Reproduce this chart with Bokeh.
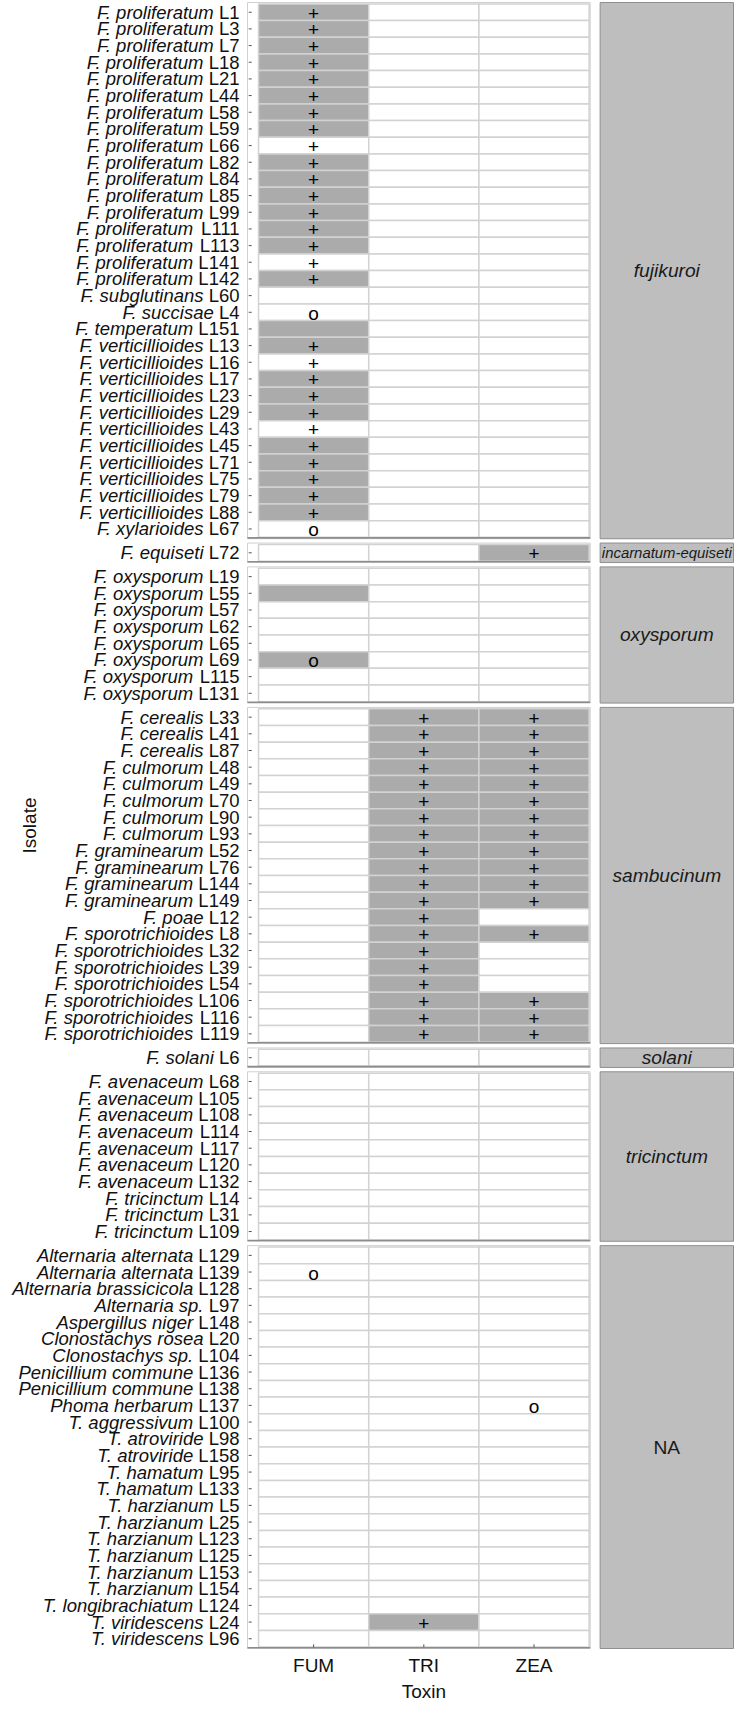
import math
from bokeh.plotting import figure
from bokeh.models import ColumnDataSource, Range1d
from bokeh.core.properties import value
from bokeh.embed import file_html
from bokeh.resources import INLINE

# ---------------- data ----------------
toxins = ["FUM", "TRI", "ZEA"]
groups = ["fujikuroi", "incarnatum-equiseti", "oxysporum", "sambucinum",
          "solani", "tricinctum", "NA"]
group_sizes = [32, 1, 8, 20, 1, 10, 24]
x_title = "Toxin"
y_title = "Isolate"

isolates = [
    # fujikuroi
    "F. proliferatum L1", "F. proliferatum L3", "F. proliferatum L7", "F. proliferatum L18",
    "F. proliferatum L21", "F. proliferatum L44", "F. proliferatum L58", "F. proliferatum L59",
    "F. proliferatum L66", "F. proliferatum L82", "F. proliferatum L84", "F. proliferatum L85",
    "F. proliferatum L99", "F. proliferatum L111", "F. proliferatum L113", "F. proliferatum L141",
    "F. proliferatum L142", "F. subglutinans L60", "F. succisae L4", "F. temperatum L151",
    "F. verticillioides L13", "F. verticillioides L16", "F. verticillioides L17",
    "F. verticillioides L23", "F. verticillioides L29", "F. verticillioides L43",
    "F. verticillioides L45", "F. verticillioides L71", "F. verticillioides L75",
    "F. verticillioides L79", "F. verticillioides L88", "F. xylarioides L67",
    # incarnatum-equiseti
    "F. equiseti L72",
    # oxysporum
    "F. oxysporum L19", "F. oxysporum L55", "F. oxysporum L57", "F. oxysporum L62",
    "F. oxysporum L65", "F. oxysporum L69", "F. oxysporum L115", "F. oxysporum L131",
    # sambucinum
    "F. cerealis L33", "F. cerealis L41", "F. cerealis L87", "F. culmorum L48",
    "F. culmorum L49", "F. culmorum L70", "F. culmorum L90", "F. culmorum L93",
    "F. graminearum L52", "F. graminearum L76", "F. graminearum L144", "F. graminearum L149",
    "F. poae L12", "F. sporotrichioides L8", "F. sporotrichioides L32",
    "F. sporotrichioides L39", "F. sporotrichioides L54", "F. sporotrichioides L106",
    "F. sporotrichioides L116", "F. sporotrichioides L119",
    # solani
    "F. solani L6",
    # tricinctum
    "F. avenaceum L68", "F. avenaceum L105", "F. avenaceum L108", "F. avenaceum L114",
    "F. avenaceum L117", "F. avenaceum L120", "F. avenaceum L132", "F. tricinctum L14",
    "F. tricinctum L31", "F. tricinctum L109",
    # NA
    "Alternaria alternata L129", "Alternaria alternata L139", "Alternaria brassicicola L128",
    "Alternaria sp. L97", "Aspergillus niger L148", "Clonostachys rosea L20",
    "Clonostachys sp. L104", "Penicillium commune L136", "Penicillium commune L138",
    "Phoma herbarum L137", "T. aggressivum L100", "T. atroviride L98", "T. atroviride L158",
    "T. hamatum L95", "T. hamatum L133", "T. harzianum L5", "T. harzianum L25",
    "T. harzianum L123", "T. harzianum L125", "T. harzianum L153", "T. harzianum L154",
    "T. longibrachiatum L124", "T. viridescens L24", "T. viridescens L96",
]

# gene detected (grey tile) : 1 / 0
fum_gene = ([1, 1, 1, 1, 1, 1, 1, 1, 0, 1, 1, 1, 1, 1, 1, 0, 1, 0, 0, 1,
             1, 0, 1, 1, 1, 0, 1, 1, 1, 1, 1, 0]
            + [0]
            + [0, 1, 0, 0, 0, 1, 0, 0]
            + [0] * 20
            + [0]
            + [0] * 10
            + [0] * 24)
tri_gene = ([0] * 32
            + [0]
            + [0] * 8
            + [1] * 20
            + [0]
            + [0] * 10
            + [0] * 22 + [1, 0])
zea_gene = ([0] * 32
            + [1]
            + [0] * 8
            + [1, 1, 1, 1, 1, 1, 1, 1, 1, 1, 1, 1, 0, 1, 0, 0, 0, 1, 1, 1]
            + [0]
            + [0] * 10
            + [0] * 24)

# toxin production symbol
fum_prod = (["+"] * 17 + ["", "o", ""] + ["+"] * 11 + ["o"]
            + [""]
            + ["", "", "", "", "", "o", "", ""]
            + [""] * 20
            + [""]
            + [""] * 10
            + ["", "o"] + [""] * 22)
tri_prod = ([""] * 32
            + [""]
            + [""] * 8
            + ["+"] * 20
            + [""]
            + [""] * 10
            + [""] * 22 + ["+", ""])
zea_prod = ([""] * 32
            + ["+"]
            + [""] * 8
            + ["+", "+", "+", "+", "+", "+", "+", "+", "+", "+", "+", "+", "", "+", "", "", "",
               "+", "+", "+"]
            + [""]
            + [""] * 10
            + [""] * 9 + ["o"] + [""] * 14)

# ---------------- layout ----------------
FONT = value("Liberation Sans")
W, H = 734, 1701
PANEL_X0 = 247          # canvas px of panel left edge
PANEL_Y0 = 2            # canvas px of first panel top
PANEL_Y1 = 1648         # canvas px of last panel bottom
ux = 110.2              # px per toxin column
panel_left, panel_right = -0.6, 2.51
strip_left = 2.6
x_start = panel_left - PANEL_X0 / ux
x_end = x_start + W / ux

PAD, GAP = 0.085, 0.26
row_y, p_top, p_bot = [], [], []
yy = 0.0
for n in group_sizes:
    p_top.append(yy)
    yy += PAD
    for k in range(n):
        row_y.append(yy + 0.5)
        yy += 1
    yy += PAD
    p_bot.append(yy)
    yy += GAP
total = yy - GAP
uy = (PANEL_Y1 - PANEL_Y0) / total


def xpx(px):            # canvas px -> x data
    return x_start + px / ux


def ypx(px):            # px below last panel bottom -> y data
    return total + px / uy


p = figure(width=W, height=H, output_backend="svg", toolbar_location=None,
           x_range=Range1d(x_start, x_end),
           y_range=Range1d(total + (H - PANEL_Y1) / uy, -PANEL_Y0 / uy),
           min_border=0, x_axis_location=None, y_axis_location=None)
p.grid.visible = False
p.outline_line_color = None
p.background_fill_color = "white"
p.border_fill_color = "white"

# panels
p.quad(left=panel_left, right=panel_right, top=p_top, bottom=p_bot,
       fill_color="white", line_color="#d0d0d0", line_width=1)

# tiles
genes = [fum_gene, tri_gene, zea_gene]
prods = [fum_prod, tri_prod, zea_prod]
tx, ty, tfill, sx, sy, st = [], [], [], [], [], []
for j in range(len(toxins)):
    for i in range(len(isolates)):
        tx.append(j)
        ty.append(row_y[i])
        tfill.append("#ababab" if genes[j][i] else "#ffffff")
        if prods[j][i]:
            sx.append(j)
            sy.append(row_y[i])
            st.append(prods[j][i])
p.rect(x="x", y="y", width=1, height=1, fill_color="fill", line_color="#d2d2d2",
       line_width=1.5, source=ColumnDataSource(dict(x=tx, y=ty, fill=tfill)))
p.text(x="x", y="y", text="t", source=ColumnDataSource(dict(x=sx, y=sy, t=st)),
       text_align="center", text_baseline="middle", text_font=FONT,
       text_font_size="19px", text_color="#000000", y_offset=1)

# panel bottom lines
p.segment(x0=panel_left, x1=panel_right, y0=[b - 0.8 / uy for b in p_bot],
          y1=[b - 0.8 / uy for b in p_bot], line_color="#8c8c8c", line_width=1.6)

# y ticks (inside panel, left)
p.segment(x0=panel_left + 1.2 / ux, x1=panel_left + 4.2 / ux, y0=row_y, y1=row_y,
          line_color="#555555", line_width=1)
# x ticks (inside panel, bottom)
p.segment(x0=list(range(len(toxins))), x1=list(range(len(toxins))),
          y0=total - 1.2 / uy, y1=total - 4.2 / uy, line_color="#555555", line_width=1)

# strips
strip_right = x_end - 1.0 / ux
p.quad(left=strip_left, right=strip_right, top=p_top, bottom=p_bot,
       fill_color="#bebebe", line_color="#8f8f8f", line_width=1)
aw = dict(a=556, b=556, c=500, e=556, f=278, i=222, j=222, k=500, l=222, m=833,
          n=556, o=556, p=556, q=556, r=333, s=500, t=278, u=556, y=500, N=722, A=667)
aw["-"] = 333
strip_w_px = (strip_right - strip_left) * ux
s_size, s_style = [], []
for g in groups:
    units = sum(aw.get(ch, 556) for ch in g) / 1000.0
    fs = min(19.2, (strip_w_px - 3) / units)
    s_size.append("%.1fpx" % fs)
    s_style.append("normal" if g == "NA" else "italic")
s_x = [(strip_left + strip_right) / 2] * len(groups)
s_y = [(a + b) / 2 for a, b in zip(p_top, p_bot)]
p.text(x="x", y="y", text="g",
       source=ColumnDataSource(dict(x=s_x, y=s_y, g=groups, fs=s_size, st=s_style)),
       text_align="center", text_baseline="middle", text_font=FONT,
       text_font_size="fs", text_font_style="st", text_color="#1a1a1a")

# y labels: italic taxon + roman strain code
LFS = 18.5
x_right = xpx(239)
sp_txt, sp_x, stn_txt = [], [], []
for lab in isolates:
    sp, stn = lab.rsplit(" ", 1)
    w_strain = 0.556 * len(stn) * LFS
    sp_txt.append(sp)
    stn_txt.append(stn)
    sp_x.append(x_right - (w_strain + 0.278 * LFS) / ux)
lsrc = ColumnDataSource(dict(y=row_y, sp=sp_txt, spx=sp_x, stn=stn_txt,
                             stx=[x_right] * len(isolates)))
p.text(x="spx", y="y", text="sp", source=lsrc, text_align="right",
       text_baseline="middle", text_font=FONT, text_font_size="%.1fpx" % LFS,
       text_font_style="italic", text_color="#111111")
p.text(x="stx", y="y", text="stn", source=lsrc, text_align="right",
       text_baseline="middle", text_font=FONT, text_font_size="%.1fpx" % LFS,
       text_color="#111111")

# x tick labels and axis titles
p.text(x=list(range(len(toxins))), y=[ypx(17)] * len(toxins), text=toxins,
       text_align="center", text_baseline="middle", text_font=FONT,
       text_font_size="19px", text_color="#111111")
p.text(x=[1], y=[ypx(43)], text=[x_title], text_align="center",
       text_baseline="middle", text_font=FONT, text_font_size="19px",
       text_color="#111111")
p.text(x=[xpx(28.5)], y=[total / 2], text=[y_title],
       angle=math.pi / 2, text_align="center", text_baseline="middle",
       text_font=FONT, text_font_size="19px", text_color="#111111")

open("out.html", "w").write(file_html(p, INLINE))
